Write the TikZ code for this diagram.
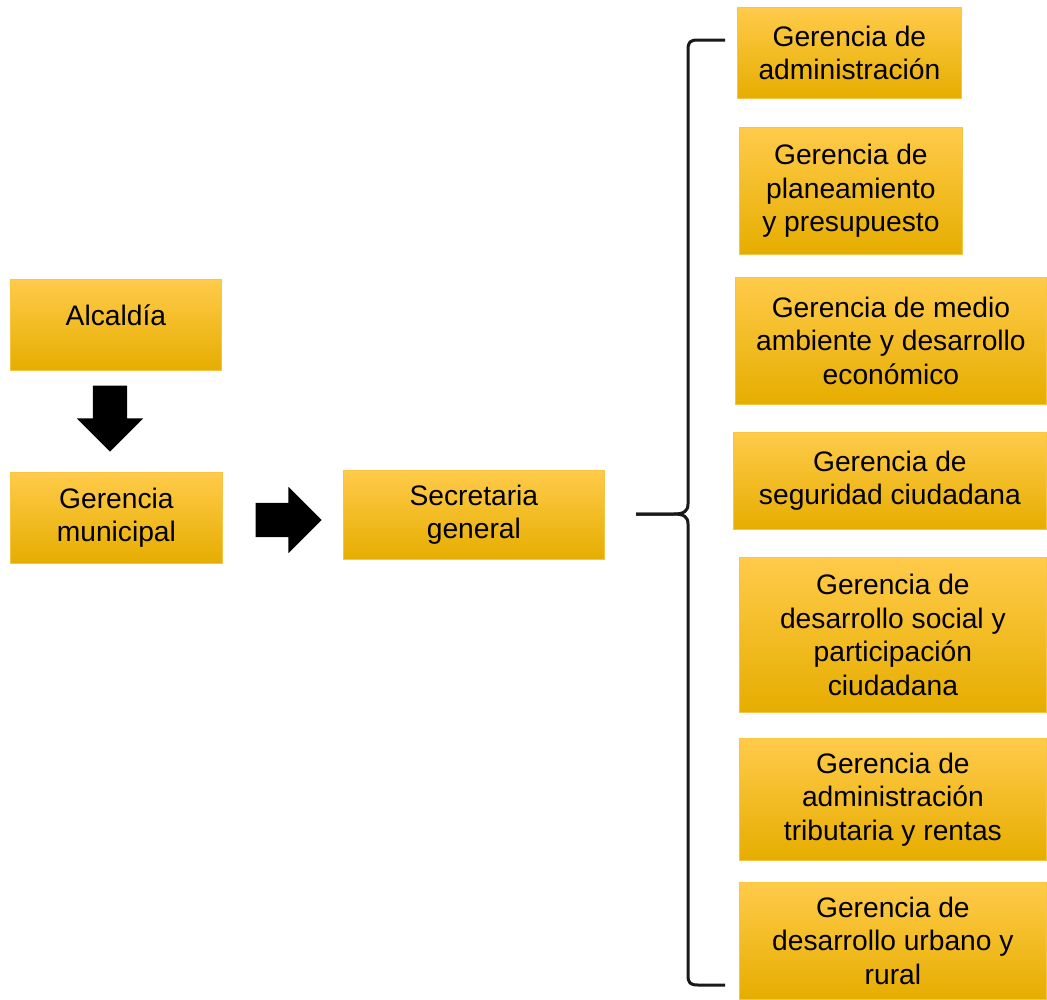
\documentclass[tikz,border=0pt]{standalone}
\usepackage{fontspec}
\setmainfont{Liberation Sans}
\usepackage{tikz}
\usetikzlibrary{shapes.arrows,calc}

\definecolor{gtop}{HTML}{FFCB4A}
\definecolor{gmid}{HTML}{FFC000}
\definecolor{gbot}{HTML}{E6AD00}
\definecolor{gline}{HTML}{F7C443}

\begin{document}
\begin{tikzpicture}[x=1pt,y=-1pt,
  box/.style={draw=gline,line width=0.8pt,top color=gtop,middle color=gmid,bottom color=gbot,
              align=center,anchor=north west,inner sep=0pt,
              font=\fontsize{28.2}{33.5}\selectfont},
  blk/.style={single arrow,fill=black,inner sep=17pt,minimum height=66pt,
              single arrow head extend=16pt,single arrow head indent=0pt},
  brc/.style={line width=3pt,black!90}]
\useasboundingbox (0,0) rectangle (1047,999);
% left column
\node[box,minimum width=211pt,minimum height=91pt,text depth=20pt] (alc) at (10,279) {Alcaldía};
\node[box,minimum width=212pt,minimum height=91pt] (ger) at (10,472) {Gerencia\\municipal};
\node[box,minimum width=261pt,minimum height=89pt] (sec) at (343,470) {Secretaria\\general};
\node[blk,rotate=-90] (dn) at (110,410) {};
\node[blk] (rt) at (280,520) {};
% gerencias
\node[box,minimum width=224pt,minimum height=91pt]  (adm) at (737,7)   {Gerencia de\\administración};
\node[box,minimum width=223pt,minimum height=127pt] (pla) at (739,127) {Gerencia de\\planeamiento\\y presupuesto};
\node[box,minimum width=311pt,minimum height=127pt] (amb) at (735,277) {Gerencia de medio\\ambiente y desarrollo\\económico};
\node[box,minimum width=313pt,minimum height=97pt]  (seg) at (733,432) {Gerencia de\\seguridad ciudadana};
\node[box,minimum width=307pt,minimum height=155pt] (soc) at (739,557) {Gerencia de\\desarrollo social y\\participación\\ciudadana};
\node[box,minimum width=307pt,minimum height=122pt] (tri) at (739,738) {Gerencia de\\administración\\tributaria y rentas};
\node[box,minimum width=307pt,minimum height=117pt] (urb) at (739,882) {Gerencia de\\desarrollo urbano y\\rural};
% brace
\coordinate (btip) at (636,514);
\coordinate (btop) at (725,40);
\coordinate (bbot) at (725,985);
\draw[brc] (btop) -- (698,40) .. controls (690,40) and (688,42) .. (688,50)
  -- (688,504) .. controls (688,511) and (684,514) .. (674,514) -- (btip);
\draw[brc] (btip) -- (674,514) .. controls (684,514) and (688,517) .. (688,524)
  -- (688,975) .. controls (688,983) and (690,985) .. (698,985) -- (bbot);
\end{tikzpicture}
\end{document}
